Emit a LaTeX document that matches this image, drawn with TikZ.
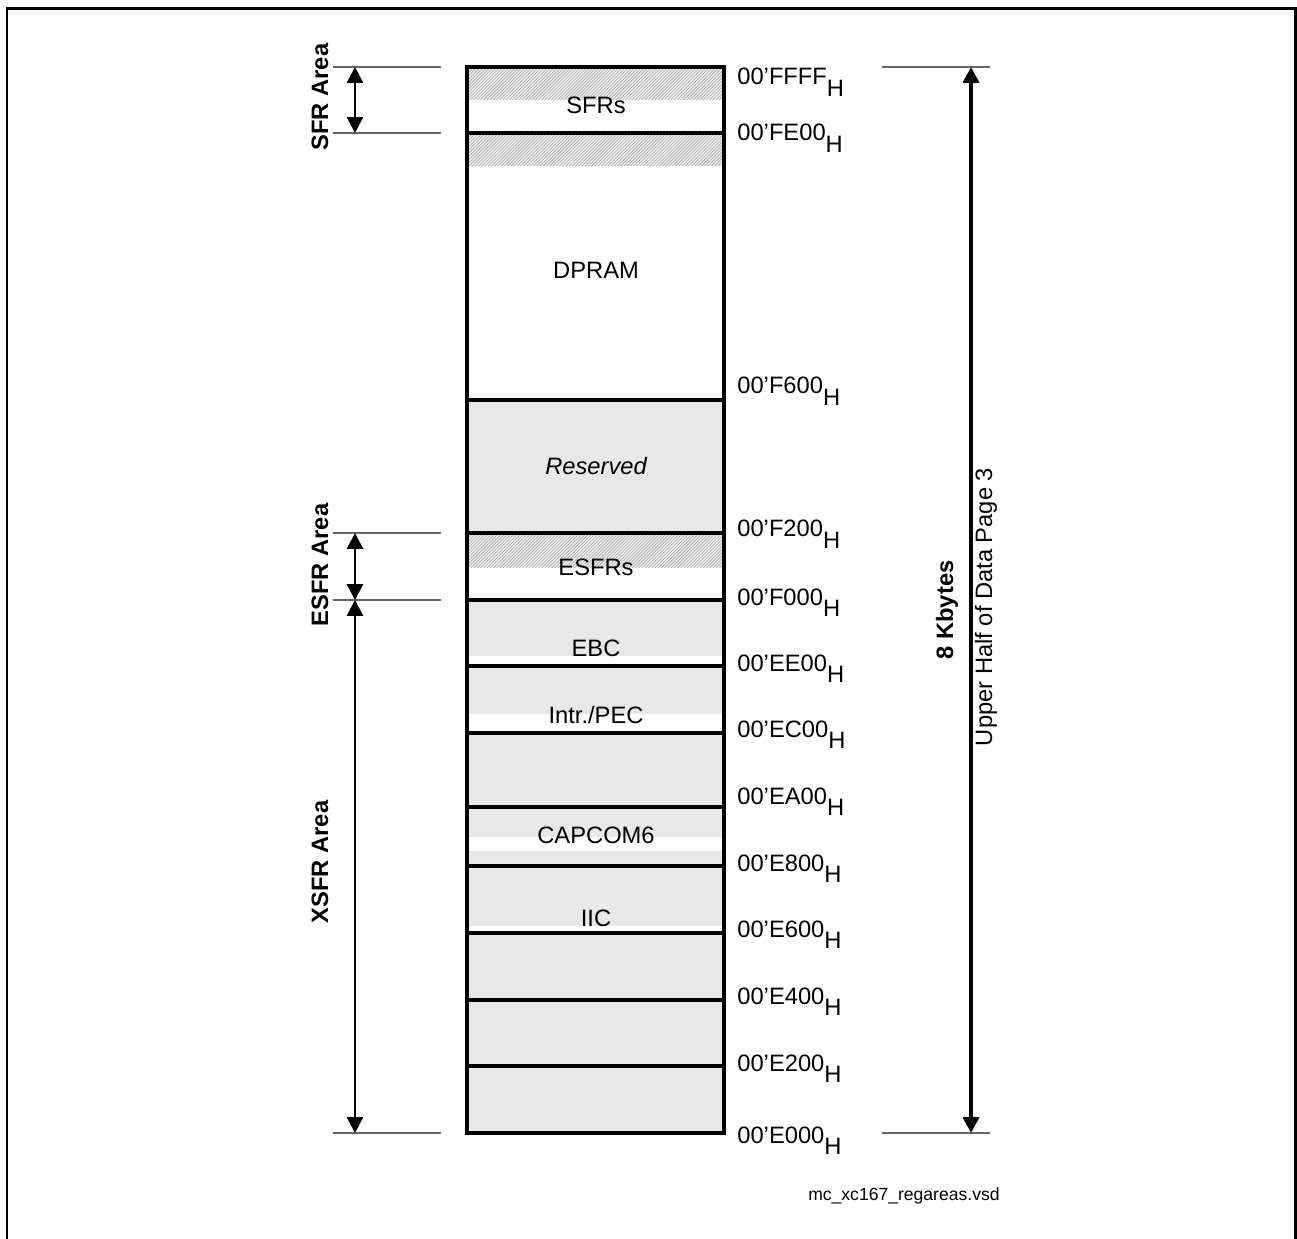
\documentclass[tikz,border=0pt]{standalone}
\usepackage{fontspec}
\setmainfont{Liberation Sans}
\usetikzlibrary{arrows.meta}
\usetikzlibrary{patterns.meta}

\newcommand{\hexaddr}[1]{00'#1\raisebox{-0.5em}{H}}

\begin{document}
\begin{tikzpicture}[x=0.02cm,y=-0.02cm,
every node/.style={inner sep=0pt},
addr/.style={anchor=base west,font=\fontsize{13.5}{16}\selectfont},
regname/.style={font=\fontsize{13.5}{16}\selectfont},
arealabel/.style={rotate=90,font=\bfseries\fontsize{13.5}{16}\selectfont},
sidelabel/.style={rotate=90,font=\fontsize{13.5}{16}\selectfont},
boxline/.style={line width=1.9pt},
extline/.style={black!60,line width=0.8pt},
dimarrow/.style={line width=1.7pt,{Triangle[length=9pt,width=9pt]}-{Triangle[length=9pt,width=9pt]}},
cellgray/.style={fill=gray!18},
hatch/.style={fill=gray!12,postaction={pattern={Lines[angle=45,distance=1.3pt,line width=0.45pt]},pattern color=gray!60}}]

\useasboundingbox (0,0) rectangle (1297,1239);
% frame
\draw[line width=1.7pt] (7,1239) |- (1295,9) -- (1295,1239);

% fills of the memory map
\foreach \a/\b in {400/533,600/656,666/714,733/807,807/837,851/866,866/926,933/1133}
  \fill[cellgray] (467,\a) rectangle (724,\b);
\foreach \a/\b in {67/100,133/166,533/567}
  \fill[hatch] (467,\a) rectangle (724,\b);

% box and row lines
\draw[boxline] (467,67) rectangle (724,1133);
\foreach \y in {133,400,533,600,666,733,807,866,933,1000,1066}
  \draw[boxline] (467,\y) -- (724,\y);

% region names
\node[regname] (sfrs) at (596,105) {SFRs};
\node[regname] (dpram) at (596,270) {DPRAM};
\node[regname,font=\itshape\fontsize{13.5}{16}\selectfont] (rsvd) at (596,466) {Reserved};
\node[regname] (esfrs) at (596,567) {ESFRs};
\node[regname] (ebc) at (596,648) {EBC};
\node[regname] (intr) at (596,715) {Intr./PEC};
\node[regname] (capcom) at (596,835) {CAPCOM6};
\node[regname] (iic) at (596,918) {IIC};

% addresses
\foreach \name/\y in {FFFF/85,FE00/141,F600/394,F200/537,F000/605,EE00/671,EC00/737,EA00/804,E800/871,E600/937,E400/1004,E200/1071,E000/1143}
  \node[addr] (a\name) at (737,\y) {\hexaddr{\name}};

% left dimensions
\foreach \y in {67,133,533,600,1133}
  \draw[extline] (333,\y) -- (441,\y);
\coordinate (l1) at (355,67);
\coordinate (l2) at (355,133);
\coordinate (l3) at (355,533);
\coordinate (l4) at (355,600);
\coordinate (l5) at (355,1133);
\draw[dimarrow] (l1) -- (l2);
\draw[dimarrow] (l3) -- (l4);
\draw[dimarrow] (l4) -- (l5);
\node[arealabel] (sfrarea) at (320,97) {SFR Area};
\node[arealabel] (esfrarea) at (320,565) {ESFR Area};
\node[arealabel] (xsfrarea) at (320,862) {XSFR Area};

% right dimension
\foreach \y in {67,1133}
  \draw[extline] (882,\y) -- (990,\y);
\coordinate (r1) at (971,67);
\coordinate (r2) at (971,1133);
\draw[dimarrow,line width=2.2pt] (r1) -- (r2);
\node[arealabel] (kbytes) at (947,610) {8 Kbytes};
\node[sidelabel] (upper) at (986,607) {Upper Half of Data Page 3};

\node[anchor=east,font=\fontsize{10}{12}\selectfont] (file) at (1000,1196) {mc\_xc167\_regareas.vsd};
\end{tikzpicture}
\end{document}
